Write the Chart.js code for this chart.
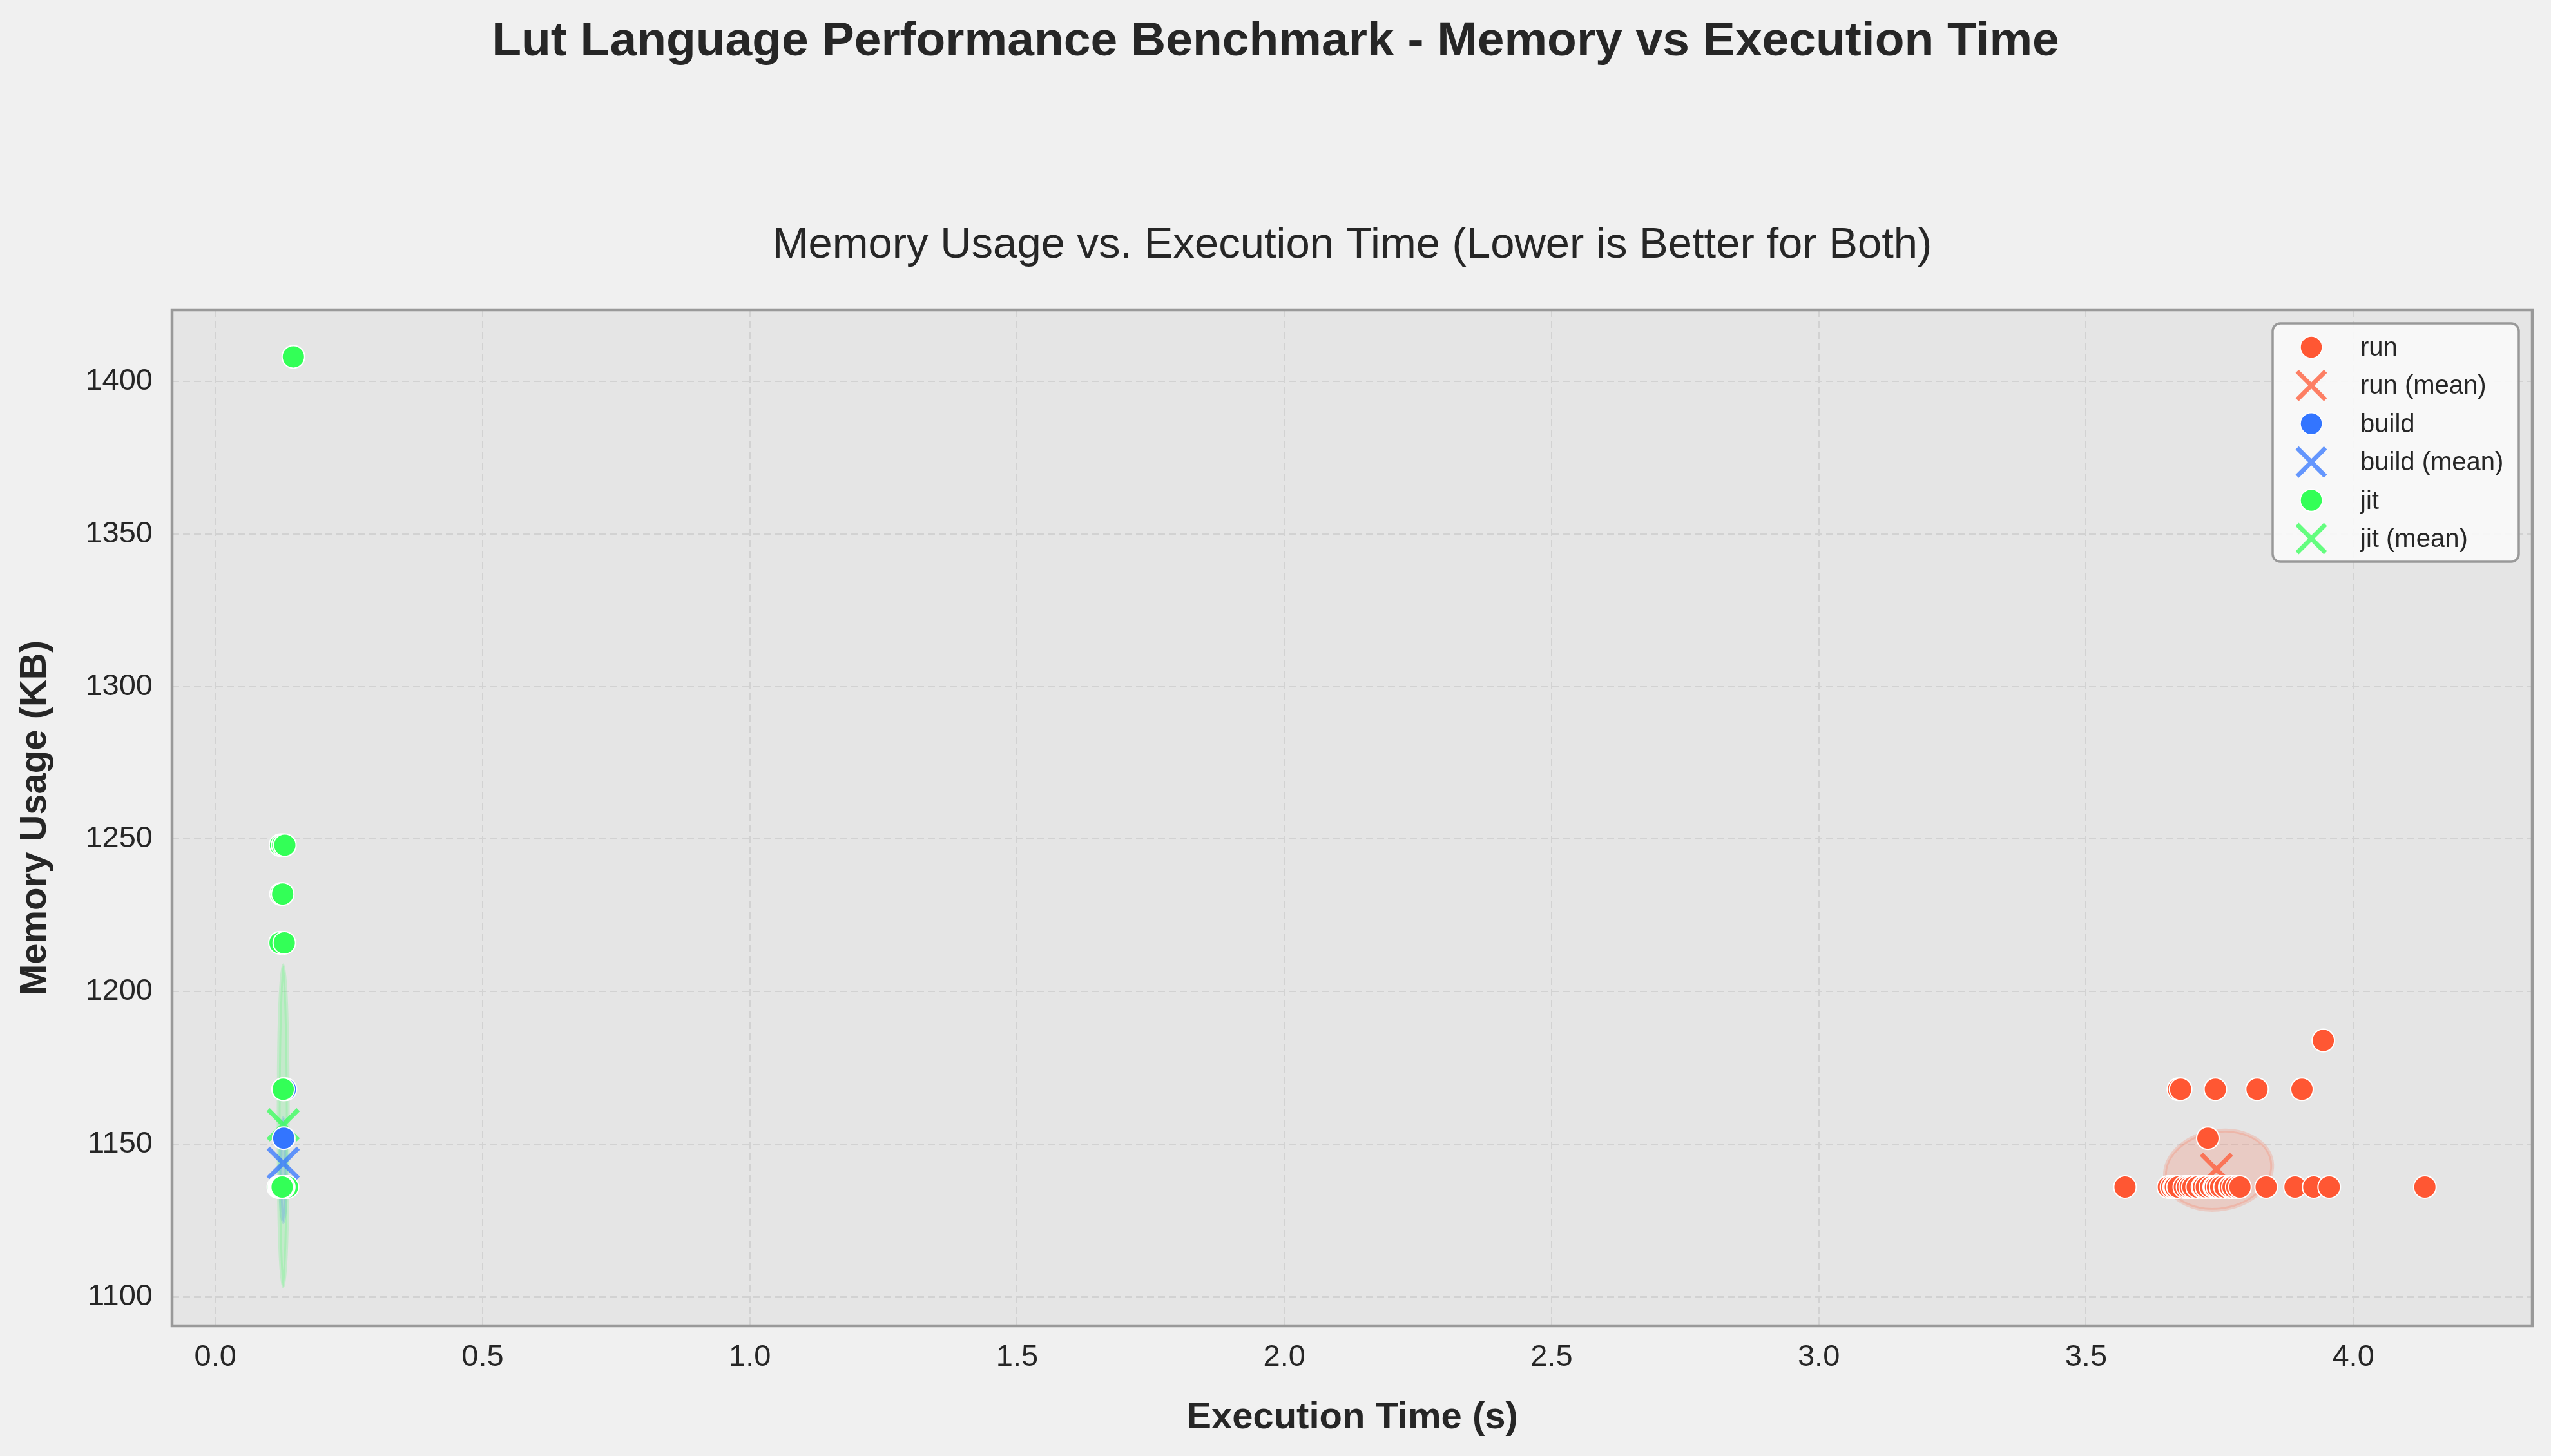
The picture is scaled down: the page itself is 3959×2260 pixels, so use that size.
<!DOCTYPE html>
<html>
<head>
<meta charset="utf-8">
<script src="https://cdn.jsdelivr.net/npm/chart.js@4.4.1/dist/chart.umd.min.js"></script>
<style>
  html, body { margin: 0; padding: 0; background: #f0f0f0; }
  #c { display: block; }
</style>
</head>
<body>
<canvas id="c" width="3959" height="2260" style="width:3959px;height:2260px"></canvas>
<script>
// ---------- DATA ----------
const mainTitle = 'Lut Language Performance Benchmark - Memory vs Execution Time';
const subTitle = 'Memory Usage vs. Execution Time (Lower is Better for Both)';
const xAxisTitle = 'Execution Time (s)';
const yAxisTitle = 'Memory Usage (KB)';

const groups = ['run', 'build', 'jit'];

// run
const runTime = [3.573, 3.654, 3.660, 3.665, 3.667, 3.672, 3.684, 3.690, 3.695, 3.700, 3.708, 3.718, 3.720, 3.725, 3.733,
                 3.740, 3.742, 3.746, 3.752, 3.760, 3.769, 3.770, 3.775, 3.782, 3.788, 3.837, 3.891, 3.926, 3.955, 4.134,
                 3.673, 3.677, 3.742, 3.820, 3.904, 3.728, 3.944];
const runMem  = [1136, 1136, 1136, 1136, 1136, 1136, 1136, 1136, 1136, 1136, 1136, 1136, 1136, 1136, 1136,
                 1136, 1136, 1136, 1136, 1136, 1136, 1136, 1136, 1136, 1136, 1136, 1136, 1136, 1136, 1136,
                 1168, 1168, 1168, 1168, 1168, 1152, 1184];
// build
const buildTime = [0.124, 0.126, 0.128, 0.130, 0.125, 0.127, 0.129, 0.126, 0.128, 0.127, 0.131];
const buildMem  = [1136, 1136, 1136, 1136, 1136, 1136, 1136, 1136, 1152, 1168, 1168];
// jit
const jitTime = [0.146, 0.122, 0.126, 0.130, 0.123, 0.126, 0.121, 0.129, 0.127,
                 0.118, 0.120, 0.121, 0.122, 0.123, 0.124, 0.124, 0.125, 0.125, 0.126, 0.126,
                 0.127, 0.127, 0.128, 0.128, 0.129, 0.129, 0.130, 0.130, 0.131, 0.131, 0.132, 0.132,
                 0.133, 0.133, 0.134, 0.134, 0.135, 0.126, 0.128, 0.127, 0.125];
const jitMem  = [1408, 1248, 1248, 1248, 1232, 1232, 1216, 1216, 1168,
                 1136, 1136, 1136, 1136, 1136, 1136, 1136, 1136, 1136, 1136, 1136,
                 1136, 1136, 1136, 1136, 1136, 1136, 1136, 1136, 1136, 1136, 1136, 1136,
                 1136, 1136, 1136, 1136, 1136, 1136, 1136, 1136, 1136];

// group means (time s, memory KB)
const meanTime = [3.744, 0.127, 0.127];
const meanMem  = [1141.8, 1143.8, 1156.4];

// spread ellipses (centre, semi-axes in data units, tilt in degrees)
const ellCenterX = [3.748, 0.127, 0.127];
const ellCenterY = [1141.5, 1141.5, 1156.0];
const ellSemiX   = [0.101, 0.0055, 0.0085];
const ellSemiY   = [12.8, 17.0, 52.6];
const ellAngle   = [-10, 0, 0];

// ticks
const xTickValues = [0, 0.5, 1.0, 1.5, 2.0, 2.5, 3.0, 3.5, 4.0];
const xTickLabels = ['0.0', '0.5', '1.0', '1.5', '2.0', '2.5', '3.0', '3.5', '4.0'];
const yTickValues = [1100, 1150, 1200, 1250, 1300, 1350, 1400];
const yTickLabels = ['1100', '1150', '1200', '1250', '1300', '1350', '1400'];
const xRange = [-0.081, 4.335];
const yRange = [1090.5, 1423.4];

// ---------- STYLE ----------
const FONT = "'Liberation Sans', Arial, Helvetica, sans-serif";
const TEXT = '#262626';
const groupColor = ['#FF5733', '#3375FF', '#33FF57'];
const groupRGB = [[255, 87, 51], [51, 117, 255], [51, 255, 87]];
const meanColor = groupRGB.map(c => `rgba(${c[0]},${c[1]},${c[2]},0.75)`);

const pts = (xs, ys) => xs.map((x, i) => ({ x: x, y: ys[i] }));
const scatterSets = [[runTime, runMem], [buildTime, buildMem], [jitTime, jitMem]];

const datasets = [];
groups.forEach((g, i) => {
  datasets.push({
    label: g,
    data: pts(scatterSets[i][0], scatterSets[i][1]),
    pointStyle: 'circle',
    pointRadius: 17.5,
    backgroundColor: groupColor[i],
    borderColor: '#ffffff',
    borderWidth: 2,
    order: 10 - i,           // points drawn above means
    legendKind: 'point'
  });
  datasets.push({
    label: g + ' (mean)',
    data: [{ x: meanTime[i], y: meanMem[i] }],
    pointStyle: 'crossRot',
    pointRadius: 33,
    backgroundColor: meanColor[i],
    borderColor: meanColor[i],
    borderWidth: 7,
    order: 20 - i,
    legendKind: 'cross'
  });
});

// ---------- PLUGINS ----------
const bgPlugin = {
  id: 'bg',
  beforeDraw(chart) {
    const { ctx, chartArea: a } = chart;
    ctx.save();
    ctx.fillStyle = '#f0f0f0';
    ctx.fillRect(0, 0, chart.width, chart.height);
    ctx.fillStyle = '#e5e5e5';
    ctx.fillRect(a.left, a.top, a.right - a.left, a.bottom - a.top);
    ctx.restore();
  }
};

const ellipsePlugin = {
  id: 'ellipses',
  beforeDatasetsDraw(chart) {
    const { ctx, chartArea: a, scales: { x, y } } = chart;
    ctx.save();
    ctx.beginPath();
    ctx.rect(a.left, a.top, a.right - a.left, a.bottom - a.top);
    ctx.clip();
    groups.forEach((g, i) => {
      const cx = x.getPixelForValue(ellCenterX[i]);
      const cy = y.getPixelForValue(ellCenterY[i]);
      const rx = Math.abs(x.getPixelForValue(ellCenterX[i] + ellSemiX[i]) - cx);
      const ry = Math.abs(y.getPixelForValue(ellCenterY[i] + ellSemiY[i]) - cy);
      const c = groupRGB[i];
      ctx.beginPath();
      ctx.ellipse(cx, cy, rx, ry, ellAngle[i] * Math.PI / 180, 0, Math.PI * 2);
      ctx.fillStyle = `rgba(${c[0]},${c[1]},${c[2]},0.18)`;
      ctx.fill();
      ctx.lineWidth = 6;
      ctx.strokeStyle = `rgba(${c[0]},${c[1]},${c[2]},0.18)`;
      ctx.stroke();
    });
    ctx.restore();
  }
};

const framePlugin = {
  id: 'frame',
  afterDraw(chart) {
    const { ctx, chartArea: a } = chart;
    ctx.save();
    // spines
    ctx.strokeStyle = '#999999';
    ctx.lineWidth = 4.5;
    ctx.strokeRect(a.left, a.top, a.right - a.left, a.bottom - a.top);

    // titles
    ctx.fillStyle = TEXT;
    ctx.textAlign = 'center';
    ctx.textBaseline = 'alphabetic';
    ctx.font = `bold 75px ${FONT}`;
    ctx.fillText(mainTitle, chart.width / 2, 86);
    ctx.font = `67px ${FONT}`;
    ctx.fillText(subTitle, (a.left + a.right) / 2, 400);

    // legend
    const bx = 3527, by = 502, bw = 382, bh = 370;
    ctx.beginPath();
    ctx.roundRect(bx, by, bw, bh, 12);
    ctx.fillStyle = 'rgba(250,250,250,0.9)';
    ctx.fill();
    ctx.lineWidth = 3.5;
    ctx.strokeStyle = '#999999';
    ctx.stroke();

    const items = chart.data.datasets.map(d => d); // order as defined
    const mx = 3587, tx = 3663, y0 = 539, step = 59.4;
    ctx.font = `40px ${FONT}`;
    ctx.textAlign = 'left';
    ctx.textBaseline = 'middle';
    items.forEach((d, k) => {
      const yy = y0 + k * step;
      if (d.legendKind === 'point') {
        ctx.beginPath();
        ctx.arc(mx, yy, 17, 0, Math.PI * 2);
        ctx.fillStyle = d.backgroundColor;
        ctx.fill();
        ctx.lineWidth = 1.5;
        ctx.strokeStyle = '#ffffff';
        ctx.stroke();
      } else {
        const h = 22;
        ctx.beginPath();
        ctx.moveTo(mx - h, yy - h); ctx.lineTo(mx + h, yy + h);
        ctx.moveTo(mx - h, yy + h); ctx.lineTo(mx + h, yy - h);
        ctx.lineWidth = 7;
        ctx.strokeStyle = d.borderColor;
        ctx.stroke();
      }
      ctx.fillStyle = TEXT;
      ctx.fillText(d.label, tx, yy + 2);
    });
    ctx.restore();
  }
};

// ---------- CHART ----------
const gridCommon = {
  color: '#d2d2d2',
  lineWidth: 2,
  drawTicks: false,
  borderDash: [11, 6]
};

new Chart(document.getElementById('c').getContext('2d'), {
  type: 'scatter',
  data: { datasets },
  options: {
    responsive: false,
    animation: false,
    devicePixelRatio: 1,
    events: [],
    layout: { autoPadding: false, padding: { left: 0, right: 29, top: 481, bottom: 0 } },
    plugins: {
      legend: { display: false },
      tooltip: { enabled: false },
      title: { display: false }
    },
    scales: {
      x: {
        type: 'linear',
        min: xRange[0],
        max: xRange[1],
        grid: gridCommon,
        border: { display: false, dash: [11, 6] },
        afterBuildTicks: s => { s.ticks = xTickValues.map(v => ({ value: v })); },
        afterFit: s => { s.height = 202; s.paddingLeft = 0; s.paddingRight = 0; },
        ticks: {
          autoSkip: false,
          maxRotation: 0,
          padding: 21,
          color: TEXT,
          font: { family: FONT, size: 47 },
          callback: (v) => { const i = xTickValues.indexOf(v); return i >= 0 ? xTickLabels[i] : ''; }
        },
        title: {
          display: true,
          text: xAxisTitle,
          color: TEXT,
          font: { family: FONT, size: 58, weight: 'bold' },
          padding: { top: 0, bottom: 24 }
        }
      },
      y: {
        type: 'linear',
        min: yRange[0],
        max: yRange[1],
        grid: gridCommon,
        border: { display: false, dash: [11, 6] },
        afterBuildTicks: s => { s.ticks = yTickValues.map(v => ({ value: v })); },
        afterFit: s => { s.width = 267; s.paddingTop = 0; s.paddingBottom = 0; },
        ticks: {
          autoSkip: false,
          padding: 30,
          color: TEXT,
          font: { family: FONT, size: 47 },
          callback: (v) => { const i = yTickValues.indexOf(v); return i >= 0 ? yTickLabels[i] : ''; }
        },
        title: {
          display: true,
          text: yAxisTitle,
          color: TEXT,
          font: { family: FONT, size: 58, weight: 'bold' },
          padding: { top: 20, bottom: 0 }
        }
      }
    }
  },
  plugins: [bgPlugin, ellipsePlugin, framePlugin]
});
</script>
</body>
</html>
